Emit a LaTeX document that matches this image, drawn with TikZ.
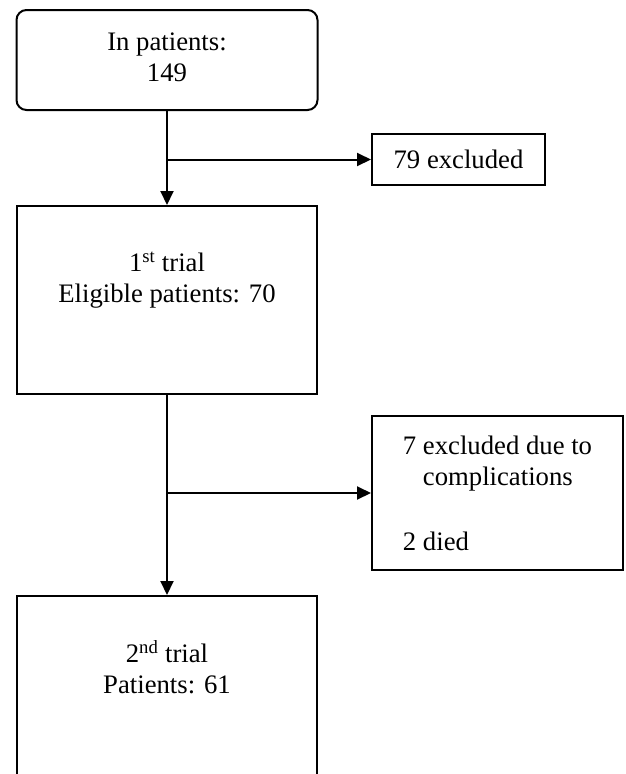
\documentclass[tikz,border=0pt]{standalone}
\usepackage{fontspec}
\setmainfont{Liberation Serif}
\usetikzlibrary{arrows.meta,positioning}

\tikzset{
  box/.style={draw, line width=2pt, align=center, inner sep=0pt,
    font=\fontsize{26.7}{31}\selectfont},
  trialbox/.style={box, minimum width=300pt, minimum height=188pt, text depth=46pt},
  flow/.style={line width=2pt, -{Triangle[length=14pt,width=13pt]}},
}

\begin{document}
\begin{tikzpicture}[x=1pt, y=-1pt]
  \useasboundingbox (0,0) rectangle (626,774);
  \clip (0,0) rectangle (626,774);

  % main column
  \node[box, rounded corners=10pt, minimum width=301pt, minimum height=100pt, text depth=6pt] (inpat) at (167,60) {In patients:\\149};
  \node[trialbox] (trial1) at (167,300) {1\textsuperscript{st} trial\\Eligible patients: 70};
  \node[trialbox] (trial2) at (167,690) {2\textsuperscript{nd} trial\\Patients: 61};

  % exclusions
  \node[box, minimum width=173pt, minimum height=51pt] (excl1) at (458.5,159.5) {79 excluded};
  \node[box, align=left, minimum width=251pt, minimum height=154pt] (excl2) at (497.5,493)
    {7 excluded due to\\\hspace*{20pt}complications\\[34pt]2 died};

  \coordinate (split1) at (inpat.south |- excl1.west);
  \coordinate (split2) at (trial1.south |- excl2.west);

  \draw[flow] (inpat) -- (trial1);
  \draw[flow] (split1) -- (excl1);
  \draw[flow] (trial1) -- (trial2);
  \draw[flow] (split2) -- (excl2);
\end{tikzpicture}
\end{document}
